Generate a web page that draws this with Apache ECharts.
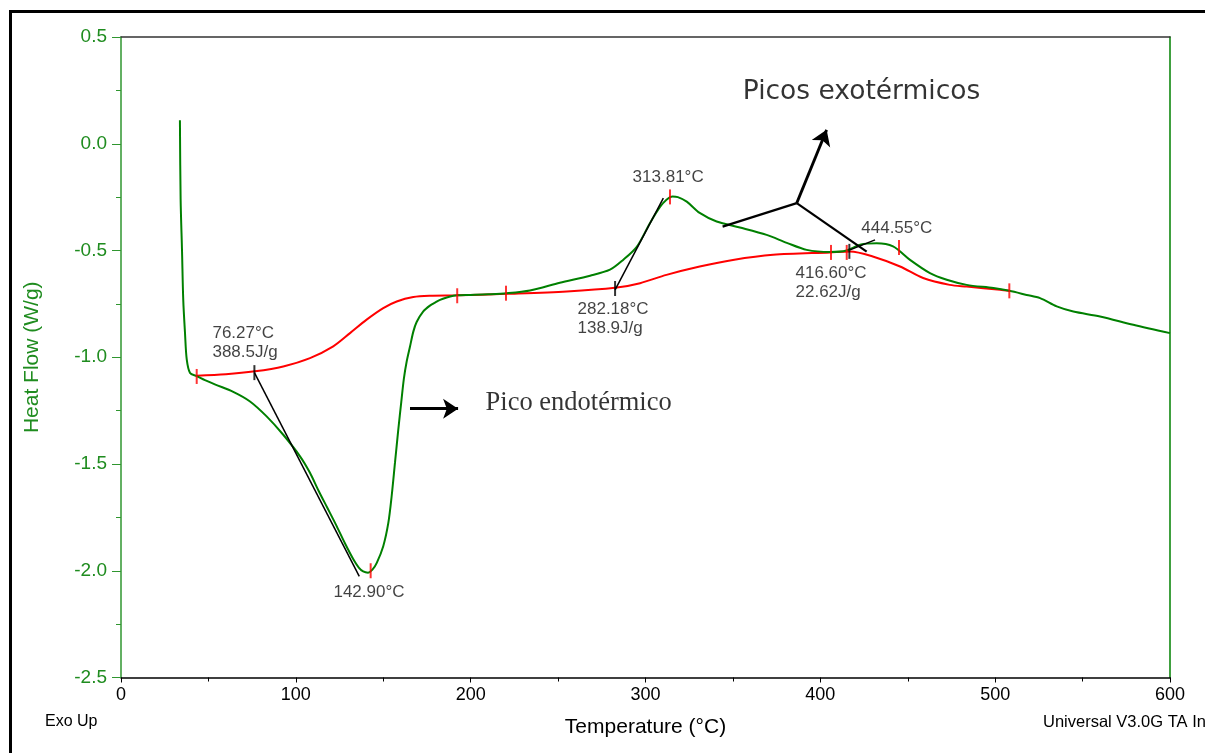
<!DOCTYPE html>
<html>
<head>
<meta charset="utf-8">
<script src="https://cdn.jsdelivr.net/npm/echarts@6/dist/echarts.min.js"></script>
<style>
  html, body { margin: 0; padding: 0; background: #fff; }
  #chart { width: 1205px; height: 753px; }
</style>
</head>
<body>
<div id="chart"></div>
<script>
// DSC scan: heat flow (W/g) versus temperature (°C)
const heatFlow = [
  [33.7, 0.11], [34.1, -0.26], [34.9, -0.50], [35.6, -0.73], [36.6, -0.885], [37.6, -1.01],
  [39.5, -1.074], [43.3, -1.088], [48.0, -1.107], [54.0, -1.128], [64.2, -1.162],
  [73.8, -1.207], [83.3, -1.277], [92.8, -1.363], [102.4, -1.464], [108.0, -1.54], [113.0, -1.625],
  [118.0, -1.705], [123.0, -1.785], [128.0, -1.87], [132.8, -1.945], [136.0, -1.985], [138.5, -2.003],
  [141.3, -2.009], [143.8, -1.995], [146.3, -1.963], [150.0, -1.885], [152.9, -1.776], [154.8, -1.651],
  [156.7, -1.495], [158.6, -1.339], [160.3, -1.21], [161.8, -1.10], [163.4, -1.02], [165.3, -0.95],
  [167.2, -0.88], [169.1, -0.835], [172.9, -0.785], [176.7, -0.758], [179.6, -0.744], [182.5, -0.731],
  [186.3, -0.72], [190.1, -0.712], [192.4, -0.710], [200.0, -0.708], [210.0, -0.705], [220.6, -0.70],
  [233.9, -0.687], [251.0, -0.651], [268.3, -0.618], [279.7, -0.59], [287.2, -0.544], [295.0, -0.483],
  [302.6, -0.371], [308.3, -0.296], [312.0, -0.262], [315.5, -0.247], [318.5, -0.25], [323.6, -0.271],
  [331.0, -0.324], [340.7, -0.364], [354.0, -0.392], [369.3, -0.427], [380.8, -0.464], [392.2, -0.497],
  [405.5, -0.507], [415.0, -0.500], [422.7, -0.473], [432.2, -0.466], [441.6, -0.481], [451.3, -0.544],
  [462.7, -0.606], [472.3, -0.637], [483.7, -0.661], [499.0, -0.676], [508.1, -0.689], [518.0, -0.708],
  [525.7, -0.723], [535.2, -0.762], [544.7, -0.786], [560.0, -0.809], [579.0, -0.848], [600.0, -0.887]
];

// Integration baselines drawn under the peaks
const baseline = [
  [43.3, -1.087], [60.0, -1.08], [76.6, -1.066], [92.8, -1.043], [108.1, -1.004], [121.4, -0.949],
  [131.0, -0.887], [140.5, -0.824], [150.0, -0.77], [157.7, -0.739], [167.2, -0.718], [176.7, -0.712],
  [192.4, -0.710], [220.3, -0.703], [255.0, -0.692], [282.6, -0.675], [296.9, -0.653], [312.0, -0.614],
  [331.0, -0.575], [350.0, -0.544], [373.0, -0.52], [405.5, -0.509], [417.0, -0.505], [430.0, -0.528],
  [445.6, -0.575], [458.8, -0.629], [474.0, -0.661], [483.7, -0.669], [502.8, -0.684], [508.1, -0.689]
];

// Red limit markers on the curve
const limitMarks = [
  [43.3, -1.09], [142.8, -2.0], [192.3, -0.712], [220.2, -0.70], [314.0, -0.249],
  [406.1, -0.509], [415.1, -0.509], [445.0, -0.486], [508.1, -0.689]
];

// Black onset markers
const onsetMarks = [[76.3, -1.072], [282.6, -0.678], [416.6, -0.504]];

// Onset tangent lines
const tangents = [
  [[76.3, -1.072], [136.3, -2.026]],
  [[282.6, -0.684], [310.2, -0.255]],
  [[417.0, -0.497], [431.3, -0.45]]
];

// Pointer lines for the exothermic peaks and the endothermic peak
const pointerLines = [
  [[386.5, -0.278], [344.1, -0.388]],
  [[386.5, -0.278], [426.5, -0.505]]
];
const arrowLines = [
  [[386.5, -0.278], [403.6, 0.065]],
  [[165.3, -1.241], [192.8, -1.241]]
];

// Peak annotations: [T, HF, text]
const peakNotes = [
  [52.6, -0.846, '76.27°C\n388.5J/g'],
  [121.8, -2.059, '142.90°C'],
  [292.9, -0.115, '313.81°C'],
  [261.4, -0.734, '282.18°C\n138.9J/g'],
  [386.1, -0.567, '416.60°C\n22.62J/g'],
  [423.7, -0.354, '444.55°C']
];
const exoNote = [355.9, 0.308, 'Picos exotérmicos'];
const endoNote = [208.8, -1.145, 'Pico endotérmico'];

const xTicks = { min: 0, max: 600, interval: 100 };
const yTicks = { min: -2.5, max: 0.5, interval: 0.5 };

const GREEN = '#008000';
const AXIS_GREEN = '#2f962f';
const LABEL_GREEN = '#1f8c1f';
const SANS = '"Liberation Sans", Arial, sans-serif';

const chart = echarts.init(document.getElementById('chart'), null, { renderer: 'canvas' });

const option = {
  animation: false,
  backgroundColor: '#ffffff',
  grid: { left: 121, right: 35, top: 37, bottom: 75.5, containLabel: false },
  xAxis: [
    {
      type: 'value', min: xTicks.min, max: xTicks.max, interval: xTicks.interval,
      position: 'bottom',
      name: 'Temperature (°C)', nameLocation: 'middle', nameGap: 39,
      nameTextStyle: { color: '#000', fontSize: 21, fontFamily: SANS },
      axisLine: { show: true, onZero: false, lineStyle: { color: '#000', width: 1.5 } },
      axisTick: { show: true, inside: false, length: 5, lineStyle: { color: '#000', width: 1 } },
      minorTick: { show: true, splitNumber: 2, length: 4, lineStyle: { color: '#000', width: 1 } },
      axisLabel: { color: '#000', fontSize: 18, fontFamily: SANS, margin: 9 },
      splitLine: { show: false }
    },
    {
      type: 'value', min: xTicks.min, max: xTicks.max, position: 'top',
      axisLine: { show: true, onZero: false, lineStyle: { color: '#333', width: 1.5 } },
      axisTick: { show: false }, axisLabel: { show: false }, splitLine: { show: false }
    }
  ],
  yAxis: [
    {
      type: 'value', min: yTicks.min, max: yTicks.max, interval: yTicks.interval,
      position: 'left',
      name: 'Heat Flow (W/g)', nameLocation: 'middle', nameGap: 78, nameRotate: 90,
      nameTextStyle: { color: LABEL_GREEN, fontSize: 21, fontFamily: SANS },
      axisLine: { show: true, onZero: false, lineStyle: { color: AXIS_GREEN, width: 1.5 } },
      axisTick: { show: true, inside: false, length: 9, lineStyle: { color: AXIS_GREEN, width: 1 } },
      minorTick: { show: true, splitNumber: 2, length: 5, lineStyle: { color: AXIS_GREEN, width: 1 } },
      axisLabel: { color: LABEL_GREEN, fontSize: 19, fontFamily: SANS, margin: 14,
                   formatter: v => v.toFixed(1) },
      splitLine: { show: false }
    },
    {
      type: 'value', min: yTicks.min, max: yTicks.max, position: 'right',
      axisLine: { show: true, onZero: false, lineStyle: { color: GREEN, width: 1.5 } },
      axisTick: { show: false }, axisLabel: { show: false }, splitLine: { show: false }
    }
  ],
  graphic: [
    { type: 'rect', silent: true, z: 100,
      shape: { x: 10.5, y: 11.5, width: 1220, height: 780 },
      style: { fill: 'none', stroke: '#000', lineWidth: 3 } },
    { type: 'text', left: 45, top: 714, silent: true,
      style: { text: 'Exo Up', fill: '#000', font: '16px ' + SANS } },
    { type: 'text', left: 1043, top: 714, silent: true,
      style: { text: 'Universal V3.0G TA Instruments', fill: '#000', font: '16.5px ' + SANS } }
  ],
  series: [
    {
      name: 'Heat Flow', type: 'line', data: heatFlow, showSymbol: false, smooth: 0.3,
      lineStyle: { color: GREEN, width: 2 }, z: 3
    },
    {
      name: 'Baseline', type: 'line', data: baseline, showSymbol: false, smooth: 0.3,
      lineStyle: { color: '#ff0000', width: 2 }, z: 2
    },
    {
      name: 'Limits', type: 'scatter', data: limitMarks, symbol: 'rect', symbolSize: [2, 15],
      itemStyle: { color: '#ff0000' }, z: 5
    },
    {
      name: 'Onsets', type: 'scatter', data: onsetMarks, symbol: 'rect', symbolSize: [2, 15],
      itemStyle: { color: '#000' }, z: 6
    },
    {
      name: 'Tangents', type: 'lines', coordinateSystem: 'cartesian2d', polyline: false,
      data: tangents.map(c => ({ coords: c })),
      lineStyle: { color: '#000', width: 1.5, opacity: 1 }, z: 6
    },
    {
      name: 'Pointers', type: 'lines', coordinateSystem: 'cartesian2d', polyline: false,
      data: pointerLines.map(c => ({ coords: c })),
      lineStyle: { color: '#000', width: 2.2, opacity: 1 }, z: 6
    },
    {
      name: 'Arrows', type: 'lines', coordinateSystem: 'cartesian2d', polyline: false,
      symbol: ['none', 'arrow'], symbolSize: 15,
      data: arrowLines.map(c => ({ coords: c })),
      lineStyle: { color: '#000', width: 2.8, opacity: 1 }, itemStyle: { color: '#000' }, z: 6
    },
    {
      name: 'Notes', type: 'scatter', symbol: 'circle', symbolSize: 1,
      itemStyle: { color: 'rgba(0,0,0,0)' }, z: 7,
      label: {
        show: true, position: [0, 0], align: 'left', verticalAlign: 'top',
        color: '#111', fontSize: 17, lineHeight: 19, fontFamily: SANS,
        formatter: p => p.data.value[2]
      },
      data: [
        ...peakNotes.map(n => ({ value: n })),
        { value: exoNote, label: { fontFamily: '"DejaVu Sans", sans-serif', fontSize: 26.5, lineHeight: 30, color: '#000' } },
        { value: endoNote, label: { fontFamily: '"Liberation Serif", "Times New Roman", serif', fontSize: 26.5, lineHeight: 30, color: '#000' } }
      ]
    }
  ]
};

chart.setOption(option);
</script>
</body>
</html>
